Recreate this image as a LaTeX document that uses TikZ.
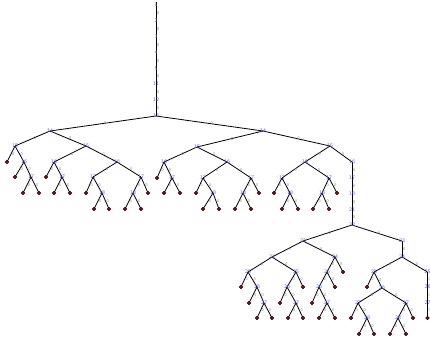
\documentclass[tikz,border=0pt]{standalone}
\definecolor{nblue}{RGB}{90,90,255}
\definecolor{lred}{RGB}{140,10,10}
\definecolor{egray}{RGB}{130,130,130}
\pgfdeclarelayer{bg}
\pgfsetlayers{bg,main}
\tikzset{
 inode/.style={inner sep=0pt, font=\fontsize{5.5}{5.5}\selectfont\sffamily, text=nblue},
 leaf/.style={circle, draw=black, fill=lred, line width=0.4pt, minimum size=3.8pt, inner sep=0pt},
 edge/.style={line width=0.8pt, black},
 elab/.style={midway, xshift=2.2pt, font=\fontsize{4}{4}\selectfont\sffamily, text=egray, inner sep=0pt},
}
\newcommand{\IN}[4]{\node[inode] (#1) at (#2,#3) {#4};}
\newcommand{\LF}[3]{\node[leaf] (#1) at (#2,#3) {};}
\newcommand{\ED}[2]{\begin{pgfonlayer}{bg}\draw[edge] (#1.center) -- node[elab]{0} (#2.center);\end{pgfonlayer}}
\begin{document}
\begin{tikzpicture}[x=1pt,y=-1pt]
\useasboundingbox (0,0) rectangle (430,338);
% top chain
\IN{c1}{156}{5}{1}
\IN{c2}{156}{21}{2}
\IN{c3}{156}{37}{3}
\IN{c4}{156}{53}{4}
\IN{c5}{156}{69}{5}
\IN{c6}{156}{84}{11}
\IN{c7}{156}{100}{12}
\IN{r}{156}{116}{13}
\begin{pgfonlayer}{bg}\draw[edge] (156,2) -- (c1.center);\end{pgfonlayer}
\ED{c1}{c2}\ED{c2}{c3}\ED{c3}{c4}\ED{c4}{c5}\ED{c5}{c6}\ED{c6}{c7}\ED{c7}{r}
% left subtree
\IN{A}{50}{131}{14}
\IN{A1}{15}{146}{15}
\IN{A11}{24}{162}{16}
\IN{A111}{31}{177}{17}
\IN{A2}{86}{146}{15}
\IN{A21}{54}{162}{16}
\IN{A211}{62}{177}{17}
\IN{A22}{117}{162}{16}
\IN{A221}{93}{177}{17}
\IN{A2211}{102}{193}{18}
\IN{A222}{141}{177}{17}
\IN{A2221}{133}{193}{18}
\LF{L1}{7}{162}\LF{L2}{15}{177}\LF{L3}{23}{193}\LF{L4}{39}{193}
\LF{L5}{46}{177}\LF{L6}{54}{193}\LF{L7}{70}{193}
\LF{L8}{86}{193}\LF{L9}{94}{209}\LF{L10}{109}{209}
\LF{L11}{148}{193}\LF{L12}{125}{209}\LF{L13}{141}{209}
\ED{r}{A}\ED{A}{A1}\ED{A}{A2}
\ED{A1}{L1}\ED{A1}{A11}\ED{A11}{L2}\ED{A11}{A111}\ED{A111}{L3}\ED{A111}{L4}
\ED{A2}{A21}\ED{A2}{A22}\ED{A21}{L5}\ED{A21}{A211}\ED{A211}{L6}\ED{A211}{L7}
\ED{A22}{A221}\ED{A22}{A222}\ED{A221}{L8}\ED{A221}{A2211}\ED{A2211}{L9}\ED{A2211}{L10}
\ED{A222}{A2221}\ED{A222}{L11}\ED{A2221}{L12}\ED{A2221}{L13}
% right subtree
\IN{B}{263}{131}{14}
\IN{B1}{197}{147}{15}
\IN{B11}{164}{162}{16}
\IN{B111}{172}{178}{17}
\IN{B12}{227}{162}{16}
\IN{B121}{203}{178}{17}
\IN{B1211}{213}{193}{18}
\IN{B122}{251}{178}{17}
\IN{B1221}{243}{193}{18}
\IN{B2}{330}{146}{15}
\IN{B21}{305}{162}{16}
\IN{B211}{282}{178}{17}
\IN{B2111}{290}{193}{18}
\IN{B212}{329}{178}{17}
\IN{B2121}{322}{193}{18}
\LF{L14}{157}{178}\LF{L15}{164}{193}\LF{L16}{180}{193}
\LF{L17}{196}{193}\LF{L18}{203}{209}\LF{L19}{219}{209}
\LF{L20}{259}{193}\LF{L21}{235}{209}\LF{L22}{251}{209}
\LF{L23}{274}{193}\LF{L24}{282}{209}\LF{L25}{298}{209}
\LF{L26}{337}{193}\LF{L27}{313}{209}\LF{L28}{329}{209}
\ED{r}{B}\ED{B}{B1}\ED{B}{B2}
\ED{B1}{B11}\ED{B1}{B12}\ED{B11}{L14}\ED{B11}{B111}\ED{B111}{L15}\ED{B111}{L16}
\ED{B12}{B121}\ED{B12}{B122}\ED{B121}{L17}\ED{B121}{B1211}\ED{B1211}{L18}\ED{B1211}{L19}
\ED{B122}{B1221}\ED{B122}{L20}\ED{B1221}{L21}\ED{B1221}{L22}
\ED{B2}{B21}\ED{B21}{B211}\ED{B21}{B212}\ED{B211}{L23}\ED{B211}{B2111}\ED{B2111}{L24}\ED{B2111}{L25}
\ED{B212}{B2121}\ED{B212}{L26}\ED{B2121}{L27}\ED{B2121}{L28}
% right chain
\IN{d1}{352}{162}{16}
\IN{d2}{352}{178}{17}
\IN{d3}{352}{194}{18}
\IN{d4}{352}{210}{21}
\IN{E}{352}{225}{22}
\ED{B2}{d1}\ED{d1}{d2}\ED{d2}{d3}\ED{d3}{d4}\ED{d4}{E}
% lower subtree
\IN{E1}{303}{241}{23}
\IN{E11}{272}{257}{24}
\IN{E111}{248}{272}{25}
\IN{E1111}{257}{287}{26}
\IN{E11111}{264}{303}{27}
\IN{E112}{296}{272}{25}
\IN{E1121}{287}{287}{26}
\IN{E11211}{296}{303}{27}
\IN{E12}{335}{257}{24}
\IN{E121}{327}{272}{25}
\IN{E1211}{319}{287}{26}
\IN{E12111}{327}{303}{27}
\LF{L29}{241}{287}\LF{L30}{249}{303}\LF{L31}{257}{318}\LF{L32}{272}{318}
\LF{L33}{303}{287}\LF{L34}{280}{303}\LF{L35}{288}{318}\LF{L36}{303}{318}
\LF{L37}{343}{272}\LF{L38}{335}{287}\LF{L39}{312}{303}\LF{L40}{319}{318}\LF{L41}{335}{318}
\ED{E}{E1}\ED{E1}{E11}\ED{E1}{E12}
\ED{E11}{E111}\ED{E11}{E112}\ED{E111}{L29}\ED{E111}{E1111}\ED{E1111}{L30}\ED{E1111}{E11111}\ED{E11111}{L31}\ED{E11111}{L32}
\ED{E112}{E1121}\ED{E112}{L33}\ED{E1121}{L34}\ED{E1121}{E11211}\ED{E11211}{L35}\ED{E11211}{L36}
\ED{E12}{E121}\ED{E12}{L37}\ED{E121}{E1211}\ED{E121}{L38}\ED{E1211}{L39}\ED{E1211}{E12111}\ED{E12111}{L40}\ED{E12111}{L41}
\IN{F}{402}{241}{23}
\IN{F1}{402}{257}{24}
\IN{F11}{374}{272}{25}
\IN{F111}{382}{288}{26}
\IN{F1111}{358}{303}{27}
\IN{F11111}{367}{318}{28}
\IN{F1112}{406}{303}{27}
\IN{F11121}{398}{318}{28}
\IN{G}{427.5}{272}{25}
\IN{G1}{427.5}{287}{26}
\IN{G2}{427.5}{303}{27}
\LF{L42}{367}{287}\LF{L43}{351}{318}\LF{L44}{359}{334}\LF{L45}{374}{334}
\LF{L46}{413}{318}\LF{L47}{390}{334}\LF{L48}{406}{334}\LF{L49}{427.5}{318}
\ED{E}{F}\ED{F}{F1}\ED{F1}{F11}\ED{F1}{G}
\ED{F11}{L42}\ED{F11}{F111}\ED{F111}{F1111}\ED{F111}{F1112}
\ED{F1111}{L43}\ED{F1111}{F11111}\ED{F11111}{L44}\ED{F11111}{L45}
\ED{F1112}{F11121}\ED{F1112}{L46}\ED{F11121}{L47}\ED{F11121}{L48}
\ED{G}{G1}\ED{G1}{G2}\ED{G2}{L49}
\end{tikzpicture}
\end{document}
